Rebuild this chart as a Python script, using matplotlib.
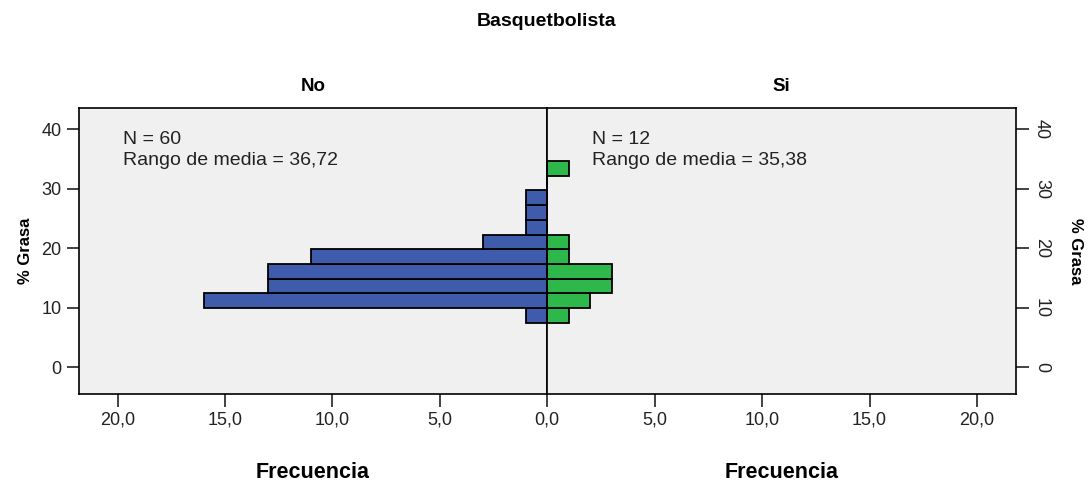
import numpy as np
import matplotlib.pyplot as plt
from matplotlib.ticker import FuncFormatter

plt.rcParams['font.family'] = ['Liberation Sans', 'DejaVu Sans']

# ====================
# Data
# ====================
bin_start = 7.5
bin_width = 2.47
freq_no = [1, 16, 13, 13, 11, 3, 1, 1, 1, 0, 0]
freq_si = [1, 2, 3, 3, 1, 1, 0, 0, 0, 0, 1]
groups = ['No', 'Si']
n_text = ['N = 60', 'N = 12']
rango_text = ['Rango de media = 36,72', 'Rango de media = 35,38']

edges = bin_start + bin_width * np.arange(len(freq_no))

# ====================
# Figure
# ====================
fig = plt.figure(figsize=(10.91, 4.86), dpi=100)
L, R, B, T = 79 / 1091, 1015.7 / 1091, 1 - 394 / 486, 1 - 108 / 486
mid = 547 / 1091
ax_no = fig.add_axes([L, B, mid - L, T - B])
ax_si = fig.add_axes([mid, B, R - mid, T - B])

bg = '#f0f0f0'
comma = FuncFormatter(lambda v, p: f'{v:.1f}'.replace('.', ','))

for ax, freq, color in [(ax_no, freq_no, '#3f5bab'), (ax_si, freq_si, '#2eb84b')]:
    ax.set_facecolor(bg)
    ax.barh(edges, freq, height=bin_width, align='edge', color=color,
            edgecolor='black', linewidth=1.3, zorder=2)
    ax.set_ylim(-4.5, 43.6)
    ax.set_xlim(0, 21.8)
    ax.set_yticks([0, 10, 20, 30, 40])
    ax.xaxis.set_major_formatter(comma)
    ax.tick_params(labelsize=13, colors='#222222', length=9, width=1.2)
    for s in ax.spines.values():
        s.set_linewidth(1.2)

ax_no.invert_xaxis()
ax_no.set_xticks([20, 15, 10, 5, 0])
ax_si.set_xticks([5, 10, 15, 20])

ax_no.set_ylabel('% Grasa', fontsize=12, fontweight='bold', labelpad=6)
ax_si.yaxis.tick_right()
ax_si.yaxis.set_label_position('right')
ax_si.set_ylabel('% Grasa', fontsize=12, fontweight='bold',
                 rotation=-90, labelpad=24)
for lab in ax_si.get_yticklabels():
    lab.set_rotation(-90)
    lab.set_va('center')

for ax, g, nt, rt in zip([ax_no, ax_si], groups, n_text, rango_text):
    ax.set_title(g, fontsize=13.5, fontweight='bold', pad=12)
    ax.set_xlabel('Frecuencia', fontsize=15.5, fontweight='bold', labelpad=24)
    ax.text(0.094 if ax is ax_no else 0.097, 0.918, nt + '\n' + rt,
            transform=ax.transAxes, fontsize=14, va='top', ha='left',
            linespacing=1.3, color='#222222')

fig.text(mid, 1 - 22 / 486, 'Basquetbolista', ha='center', va='center',
         fontsize=14, fontweight='bold')

plt.savefig('out.png', dpi=100, facecolor='white')
